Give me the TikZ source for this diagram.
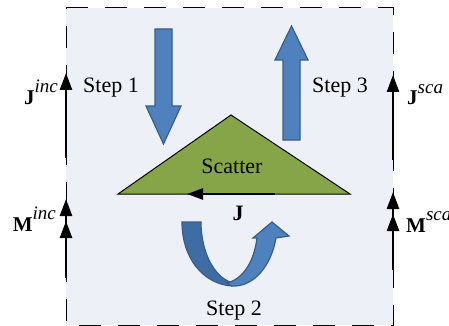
\documentclass[tikz,border=0pt]{standalone}
\usepackage{fontspec}
\setmainfont{Liberation Serif}
\usetikzlibrary{arrows.meta}
\definecolor{boxbg}{RGB}{237,240,246}
\definecolor{stepblue}{RGB}{79,129,189}
\definecolor{stepblueedge}{RGB}{56,93,138}
\definecolor{stepbluedark}{RGB}{64,108,164}
\definecolor{scattergreen}{RGB}{134,165,72}
\tikzset{
  lbl/.style={inner sep=0pt,font=\fontsize{22}{24}\selectfont},
  flbl/.style={inner sep=0pt,font=\fontsize{21}{24}\selectfont},
  src/.style={line width=2.6pt,-{Triangle[length=17pt,width=12pt]}},
  srcdbl/.style={line width=2.6pt,-{Triangle[length=17pt,width=12pt,sep=5pt]Triangle[length=17pt,width=12pt]}},
  bluearrow/.style={fill=stepblue,draw=stepblueedge,line width=1.2pt,line join=miter},
}
\newcommand{\fieldlbl}[2]{{\bfseries #1}\raisebox{11.5pt}{\fontsize{19}{19}\selectfont\itshape #2}}
\begin{document}
\begin{tikzpicture}[x=1pt,y=-1pt]
\useasboundingbox (0,0) rectangle (449,326);
\clip (0,0) rectangle (449,326);
% surface box
\fill[boxbg] (66,8) rectangle (393,325);
\draw[black,line width=1pt,dash pattern=on 22pt off 17pt] (66,8) -- (393,8) -- (393,325) -- (66,325) -- cycle;
% equivalent sources
\coordinate (ji0) at (66,158); \coordinate (ji1) at (66,73);
\coordinate (mi0) at (66,278); \coordinate (mi1) at (66,199);
\coordinate (js0) at (393,160); \coordinate (js1) at (393,75);
\coordinate (ms0) at (393,270); \coordinate (ms1) at (393,192);
\draw[src] (ji0) -- (ji1);
\draw[srcdbl] (mi0) -- (mi1);
\draw[src] (js0) -- (js1);
\draw[srcdbl] (ms0) -- (ms1);
\node[flbl,anchor=base east] (jinc) at (58,104) {\fieldlbl{J}{inc}};
\node[flbl,anchor=base east] (minc) at (56,231) {\fieldlbl{M}{inc}};
\node[flbl,anchor=base west] (jsca) at (407,105) {\fieldlbl{J}{sca}};
\node[flbl,anchor=base west] (msca) at (406,232) {\fieldlbl{M}{sca}};
% step arrows
\draw[bluearrow] (155,29) -- (172,29) -- (172,106) -- (181,106) -- (163.5,144) -- (146,106) -- (155,106) -- cycle;
\draw[bluearrow] (283,140) -- (283,60) -- (275,60) -- (291.5,26) -- (308,60) -- (300,60) -- (300,140) -- cycle;
\node[lbl,anchor=base west] (s1) at (83,93) {Step 1};
\node[lbl,anchor=base west] (s3) at (312,93) {Step 3};
% scatterer
\draw[fill=scattergreen,line width=1pt,line join=miter] (118,194) -- (231,115) -- (350,194) -- cycle;
\node[lbl,anchor=base] (sc) at (232,173) {Scatter};
\coordinate (j0) at (275,194); \coordinate (j1) at (187,194);
\draw[line width=2.6pt,-{Triangle[length=16pt,width=11pt]}] (j0) -- (j1);
\node[lbl,anchor=base] (jl) at (238,220) {\bfseries J};
% U-turn arrow
\draw[fill=stepbluedark,draw=stepblueedge,line width=1.2pt]
  (182,222) -- (201,222) .. controls (201,252) and (214,276) .. (230,282)
  .. controls (232,284) .. (232,286) .. controls (203,284) and (182,258) .. (182,222) -- cycle;
\draw[bluearrow]
  (227,283) .. controls (243,279) and (254,262) .. (257,238) -- (253,238) -- (272,222) -- (289,236)
  -- (276,238) .. controls (271,266) and (254,287) .. (232,286) -- cycle;
\node[lbl,anchor=base] (s2) at (234,315) {Step 2};
\end{tikzpicture}
\end{document}
